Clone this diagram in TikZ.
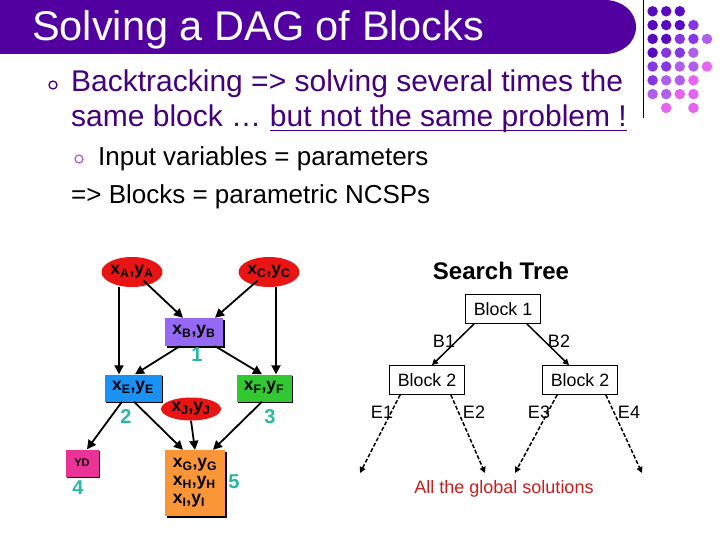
\documentclass[tikz,border=0pt]{standalone}
\usepackage{fontspec}
\setmainfont{Liberation Sans}
\usetikzlibrary{arrows.meta,shapes.geometric,shadows}
\definecolor{banner}{RGB}{82,0,160}
\definecolor{txtpurple}{RGB}{68,0,125}
\definecolor{dA}{RGB}{90,10,190}
\definecolor{dB}{RGB}{135,55,225}
\definecolor{dC}{RGB}{175,95,235}
\definecolor{dD}{RGB}{230,100,240}
\definecolor{nred}{RGB}{235,20,20}
\definecolor{npurple}{RGB}{150,105,245}
\definecolor{nblue}{RGB}{25,145,245}
\definecolor{ngreen}{RGB}{50,200,50}
\definecolor{npink}{RGB}{235,50,150}
\definecolor{norange}{RGB}{250,150,55}
\definecolor{teal}{RGB}{40,185,160}
\definecolor{solred}{RGB}{200,30,30}
\tikzset{
  dagbox/.style={rectangle, inner sep=0pt, drop shadow={shadow xshift=1.5pt, shadow yshift=-1.5pt, fill=black, opacity=1}, font=\fontsize{17.5}{18}\selectfont\bfseries},
  dagell/.style={ellipse, inner sep=0pt, fill=nred, font=\fontsize{17.5}{18}\selectfont\bfseries},
  dagarrow/.style={line width=1.8pt, -{Triangle[length=9pt,width=9pt]}},
  num/.style={text=teal, font=\fontsize{20}{22}\selectfont\bfseries},
  treebox/.style={draw, line width=0.8pt, rectangle, inner sep=0pt, minimum width=75pt, minimum height=29pt, font=\fontsize{17.8}{20}\selectfont},
  treearrow/.style={line width=1.5pt, -{Triangle[length=6pt,width=6pt]}},
  dasharrow/.style={line width=1.5pt, dash pattern=on 4pt off 2pt, -{Triangle[length=6pt,width=6pt]}},
  tlabel/.style={font=\fontsize{18}{20}\selectfont},
  bigline/.style={anchor=base west, inner sep=0pt, text=txtpurple, font=\fontsize{30}{34}\selectfont},
  subline/.style={anchor=base west, inner sep=0pt, font=\fontsize{26}{30}\selectfont},
  dot/.style={circle, inner sep=0pt, minimum size=10.5pt}
}
\begin{document}
\begin{tikzpicture}[x=1pt,y=-1pt]
\useasboundingbox (0,0) rectangle (720,540);
\fill[white] (0,0) rectangle (720,540);
% banner
\fill[banner] (0,0) -- (605,0) to[out=0,in=90] (636,27) to[out=-90,in=0] (605,54) -- (0,54) -- cycle;
\node[anchor=base west, text=white, inner sep=0pt, font=\fontsize{41.5}{44}\selectfont] (title) at (32,41) {Solving a DAG of Blocks};
\draw[line width=0.8pt] (643,0) -- (643,118);
% dots
\foreach \c/\r/\col in {1/1/dA,2/1/dA,3/1/dA,
  1/2/dA,2/2/dA,3/2/dA,4/2/dB,
  1/3/dA,2/3/dA,3/3/dB,4/3/dB,5/3/dC,
  1/4/dA,2/4/dB,3/4/dB,4/4/dC,
  1/5/dB,2/5/dB,3/5/dC,4/5/dC,5/5/dD,
  1/6/dB,2/6/dC,3/6/dC,4/6/dD,
  1/7/dC,2/7/dC,3/7/dD,4/7/dD,
  2/8/dD,4/8/dD}
  \node[dot, fill=\col] (dot\c\r) at ({639+13.6*\c},{-2.5+13.8*\r}) {};
% bullets
\node[circle, draw=txtpurple, line width=1.3pt, minimum size=8pt, inner sep=0pt] (bul1) at (53,85) {};
\node[bigline] (l1) at (71,92) {Backtracking => solving several times the};
\node[bigline] (l2) at (71,127) {same block …};
\node[bigline, anchor=base west] (l2u) at ([xshift=8.3pt]l2.base east) {but not the same problem !};
\draw[txtpurple, line width=1.6pt] ([yshift=-3.5pt]l2u.base west) -- ([yshift=-3.5pt]l2u.base east);
\node[circle, draw=dC, line width=1.3pt, minimum size=8pt, inner sep=0pt] (bul2) at (79,159) {};
\node[subline] (l3) at (98,166) {Input variables = parameters};
\node[subline] (l4) at (71,204) {=> Blocks = parametric NCSPs};
% DAG
\node[dagell, minimum width=60pt, minimum height=30pt] (A) at (132,272) {x\textsubscript{A},y\textsubscript{A}};
\node[dagell, minimum width=60pt, minimum height=30pt] (C) at (269,272) {x\textsubscript{C},y\textsubscript{C}};
\node[dagbox, fill=npurple, minimum width=58pt, minimum height=28pt] (B) at (194,332) {x\textsubscript{B},y\textsubscript{B}};
\node[dagbox, fill=nblue, minimum width=57pt, minimum height=27pt] (E) at (133,388) {x\textsubscript{E},y\textsubscript{E}};
\node[dagbox, fill=ngreen, minimum width=55pt, minimum height=27pt] (F) at (264,388) {x\textsubscript{F},y\textsubscript{F}};
\node[dagell, minimum width=60pt, minimum height=23pt] (J) at (191,409) {x\textsubscript{J},y\textsubscript{J}};
\node[dagbox, fill=npink, minimum width=33pt, minimum height=27pt, font=\fontsize{11}{12}\selectfont\bfseries] (YD) at (82,463) {YD};
\node[dagbox, fill=norange, minimum width=60pt, minimum height=66pt, align=left, font=\fontsize{17.5}{18}\selectfont\bfseries] (GHI) at (195,483) {x\textsubscript{G},y\textsubscript{G}\\x\textsubscript{H},y\textsubscript{H}\\x\textsubscript{I},y\textsubscript{I}};
\node[num] (n1) at (197,355) {1};
\node[num] (n2) at (126,417) {2};
\node[num] (n3) at (270,417) {3};
\node[num] (n4) at (78,488) {4};
\node[num] (n5) at (234,482) {5};
\draw[dagarrow] ([xshift=-13pt]A.south) -- ([xshift=-14pt]E.north);
\draw[dagarrow] ([xshift=-10pt,yshift=2pt]A.south east) -- ([xshift=-11pt]B.north);
\draw[dagarrow] ([xshift=10pt,yshift=2pt]C.south west) -- ([xshift=21pt]B.north);
\draw[dagarrow] ([xshift=7pt]C.south) -- ([xshift=12pt]F.north);
\draw[dagarrow] ([xshift=15pt]B.south west) -- ([xshift=2pt]E.north);
\draw[dagarrow] ([xshift=-8pt]B.south east) -- ([xshift=-2pt]F.north);
\draw[dagarrow] ([xshift=-11pt]E.south) -- ([xshift=5pt]YD.north);
\draw[dagarrow] ([xshift=1pt]E.south) -- ([xshift=-12pt]GHI.north);
\draw[dagarrow] (J.south) -- (GHI.north);
\draw[dagarrow] ([xshift=-2pt]F.south) -- ([xshift=18pt]GHI.north);
% search tree
\node[font=\fontsize{24}{26}\selectfont\bfseries] (st) at (501,271) {Search Tree};
\node[treebox] (b1) at (503,309) {Block 1};
\node[treebox] (b2l) at (427,380) {Block 2};
\node[treebox] (b2r) at (580,380) {Block 2};
\draw[treearrow] ([xshift=9pt]b1.south west) -- ([xshift=5pt]b2l.north);
\draw[treearrow] ([xshift=-14pt]b1.south east) -- ([xshift=-11pt]b2r.north);
\node[tlabel] (lb1) at (444,341) {B1};
\node[tlabel] (lb2) at (559,341) {B2};
\coordinate (s1) at (360,473);
\coordinate (s2) at (485,473);
\coordinate (s3) at (515,473);
\coordinate (s4) at (642,473);
\draw[dasharrow] ([xshift=11pt]b2l.south west) -- (s1);
\draw[dasharrow] ([xshift=-14pt]b2l.south east) -- (s2);
\draw[dasharrow] ([xshift=15pt]b2r.south west) -- (s3);
\draw[dasharrow] ([xshift=-12pt]b2r.south east) -- (s4);
\node[tlabel] (le1) at (382,412) {E1};
\node[tlabel] (le2) at (474,412) {E2};
\node[tlabel] (le3) at (539,412) {E3};
\node[tlabel] (le4) at (629,412) {E4};
\node[text=solred, font=\fontsize{18}{20}\selectfont] (sol) at (504,489) {All the global solutions};
\end{tikzpicture}
\end{document}
